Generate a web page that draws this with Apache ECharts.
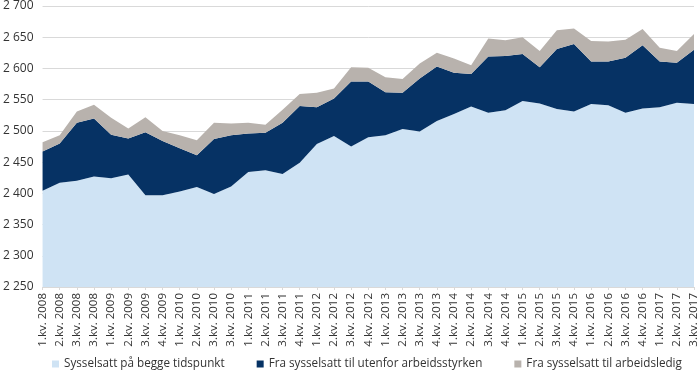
<!DOCTYPE html>
<html>
<head>
<meta charset="utf-8">
<script src="https://cdn.jsdelivr.net/npm/echarts@6/dist/echarts.min.js"></script>
<style>html,body{margin:0;padding:0;background:#fff}#c{width:700px;height:385px}</style>
</head>
<body>
<div id="c"></div>
<script>
const categories = ["1.kv. 2008","2.kv. 2008","3.kv. 2008","3.kv. 2008","1.kv. 2009","2.kv. 2009","3.kv. 2009","4.kv. 2009","1.kv. 2010","2.kv. 2010","3.kv. 2010","3.kv. 2010","1.kv. 2011","2.kv. 2011","3.kv. 2011","4.kv. 2011","1.kv. 2012","2.kv. 2012","3.kv. 2012","4.kv. 2012","1.kv. 2013","2.kv. 2013","3.kv. 2013","4.kv. 2013","1.kv. 2014","2.kv. 2014","3.kv. 2014","4.kv. 2014","1.kv. 2015","2.kv. 2015","3.kv. 2015","4.kv. 2015","1.kv. 2016","2.kv. 2016","3.kv. 2016","4.kv. 2016","1.kv. 2017","2.kv. 2017","3.kv. 2017"];
const seriesNames = ["Sysselsatt på begge tidspunkt","Fra sysselsatt til utenfor arbeidsstyrken","Fra sysselsatt til arbeidsledig"];
const begge = [2404,2417,2420,2427,2424,2430,2397,2397,2403,2410,2399,2411,2434,2437,2431,2449,2479,2492,2475,2490,2493,2503,2499,2516,2527,2539,2529,2533,2548,2544,2535,2531,2543,2541,2529,2536,2538,2545,2543];
const utenfor = [63,63,93,93,70,58,101,87,69,51,88,82,62,60,82,91,59,60,104,89,69,58,85,87,66,52,90,87,75,58,96,108,68,70,88,101,73,64,87];
const ledig = [15,13,18,22,27,16,24,16,21,24,26,19,17,13,21,19,23,16,23,22,24,22,24,22,23,14,29,25,27,26,30,25,33,32,29,26,22,19,25];
const yMin = 2250, yMax = 2700, yStep = 50;

const colors = ['#cfe3f4', '#063264', '#b8b2ad'];
const chart = echarts.init(document.getElementById('c'), null, {renderer: 'canvas'});
const font = "'Open Sans', sans-serif";
function mk(name, data, color) {
  return {
    name, type: 'line', stack: 'total', data, symbol: 'none', smooth: false,
    lineStyle: {width: 0}, areaStyle: {color, opacity: 1}, itemStyle: {color},
    emphasis: {disabled: true}
  };
}
chart.setOption({
  animation: false,
  color: colors,
  grid: {left: 42, right: 3, top: 6, bottom: 98, containLabel: false},
  legend: {
    left: 47, top: 353, itemWidth: 7, itemHeight: 7, itemGap: 32, icon: 'rect',
    textStyle: {fontFamily: font, fontSize: 11.7, color: '#333'},
    data: seriesNames
  },
  xAxis: {
    type: 'category', data: categories, boundaryGap: false,
    axisLine: {lineStyle: {color: '#d9d9d9'}},
    axisTick: {show: true, length: 3, lineStyle: {color: '#d9d9d9'}, interval: 0},
    axisLabel: {interval: 0, rotate: 90, fontFamily: font, fontSize: 11.5, color: '#333', margin: 6}
  },
  yAxis: {
    type: 'value', min: yMin, max: yMax, interval: yStep,
    axisLine: {show: false}, axisTick: {show: false},
    splitLine: {lineStyle: {color: '#d9d9d9', width: 1}},
    axisLabel: {fontFamily: font, fontSize: 12, color: '#333', margin: 9,
      formatter: v => String(v).replace(/\B(?=(\d{3})+(?!\d))/g, ' ')}
  },
  series: [mk(seriesNames[0], begge, colors[0]), mk(seriesNames[1], utenfor, colors[1]), mk(seriesNames[2], ledig, colors[2])]
});
</script>
</body>
</html>
